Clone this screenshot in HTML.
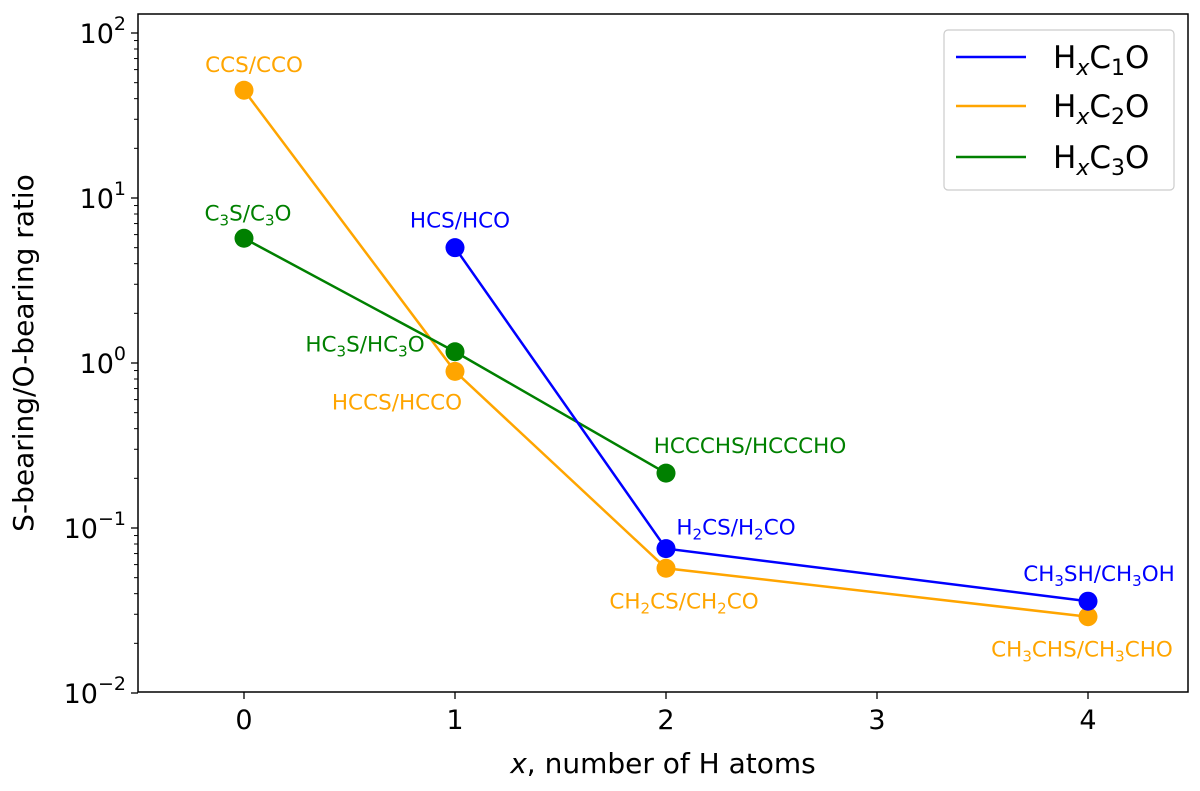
<!DOCTYPE html>
<html><head><meta charset="utf-8"><style>
body{margin:0;background:#fff}
svg{font-family:"DejaVu Sans","Liberation Sans",sans-serif}
</style></head><body>
<svg id="chart" width="1200" height="786" viewBox="0 0 1200 786" xmlns="http://www.w3.org/2000/svg">
<g id="grid"></g>
<g id="series"></g>
<g id="labels"></g>
<rect x="138" y="14" width="1050" height="678" fill="none" stroke="#000" stroke-width="1.5"/>
<g id="axes"></g>
<text x="663" y="773" font-size="28" text-anchor="middle"><tspan font-style="italic">x</tspan>, number of H atoms</text>
<text transform="translate(33,353) rotate(-90)" font-size="28" text-anchor="middle">S-bearing/O-bearing ratio</text>
<g>
<rect x="944" y="30" width="230" height="160" rx="4" fill="#fff" stroke="#ccc" stroke-width="1.2"/>
<line x1="956" y1="57" x2="1026" y2="57" stroke="#0000ff" stroke-width="2.5"/>
<text x="1053" y="68" font-size="31">H<tspan font-size="22" font-style="italic" dy="7">x</tspan><tspan dy="-7">C</tspan><tspan font-size="22" dy="7">1</tspan><tspan dy="-7">O</tspan></text>
<line x1="956" y1="106" x2="1026" y2="106" stroke="#ffa500" stroke-width="2.5"/>
<text x="1053" y="117" font-size="31">H<tspan font-size="22" font-style="italic" dy="7">x</tspan><tspan dy="-7">C</tspan><tspan font-size="22" dy="7">2</tspan><tspan dy="-7">O</tspan></text>
<line x1="956" y1="157" x2="1026" y2="157" stroke="#008000" stroke-width="2.5"/>
<text x="1053" y="168" font-size="31">H<tspan font-size="22" font-style="italic" dy="7">x</tspan><tspan dy="-7">C</tspan><tspan font-size="22" dy="7">3</tspan><tspan dy="-7">O</tspan></text>
</g>
</svg>
<script>
const xTicks=[0,1,2,3,4];
const yDecades=[-2,-1,0,1,2];
const c1X=[1,2,4], c1Y=[5.0,0.075,0.036];
const c2X=[0,1,2,4], c2Y=[45,0.89,0.057,0.029];
const c3X=[0,1,2], c3Y=[5.7,1.17,0.215];
const S="<tspan font-size='15' dy='5'>", E="</tspan><tspan dy='-5'>";
const c1Labels=["HCS/HCO","H"+S+"2"+E+"CS/H"+S+"2"+E+"CO</tspan>","CH"+S+"3"+E+"SH/CH"+S+"3"+E+"OH</tspan>"];
const c2Labels=["CCS/CCO","HCCS/HCCO","CH"+S+"2"+E+"CS/CH"+S+"2"+E+"CO</tspan>","CH"+S+"3"+E+"CHS/CH"+S+"3"+E+"CHO</tspan>"];
const c3Labels=["C"+S+"3"+E+"S/C"+S+"3"+E+"O</tspan>","HC"+S+"3"+E+"S/HC"+S+"3"+E+"O</tspan>","HCCCHS/HCCCHO"];
const c1Off=[[5,-20,'middle'],[70,-14,'middle'],[11,-20,'middle']];
const c2Off=[[10,-18,'middle'],[-58,38,'middle'],[18,40,'middle'],[-6,40,'middle']];
const c3Off=[[4,-18,'middle'],[-90,0,'middle'],[84,-20,'middle']];
const NS="http://www.w3.org/2000/svg";
const sx=v=>244+211*v;
const sy=v=>33+(2-Math.log10(v))*165;
const axes=document.getElementById('axes'),ser=document.getElementById('series'),lab=document.getElementById('labels');
function mk(tag,attrs,parent){const e=document.createElementNS(NS,tag);for(const k in attrs)e.setAttribute(k,attrs[k]);parent.appendChild(e);return e;}
xTicks.forEach(t=>{
 const l=mk('line',{x1:sx(t),x2:sx(t),y1:692,y2:699,stroke:'#000','stroke-width':1.3},axes);
 
 
 const tx=mk('text',{x:sx(t),y:729,'font-size':27,'text-anchor':'middle'},axes);tx.textContent=t;
 
 
});
yDecades.forEach(d=>{
 const y=sy(Math.pow(10,d));
 const l=mk('line',{x1:131,x2:138,y1:y,y2:y,stroke:'#000','stroke-width':1.3},axes);
 
 
 const tx=mk('text',{x:126,y:y+10,'font-size':27,'text-anchor':'end'},axes);
 tx.innerHTML='10<tspan font-size="19" dy="-13">'+(d<0?'\u2212'+(-d):d)+'</tspan>';
 
 
 if(d<2){for(let m=2;m<10;m++){const yy=sy(m*Math.pow(10,d));if(yy<14)continue;
  const ml=mk('line',{x1:134,x2:138,y1:yy,y2:yy,stroke:'#000','stroke-width':1},axes);
  
  }}
});
function series(xs,ys,col,labels,offs,name){
 const pl=mk('polyline',{points:xs.map((x,i)=>sx(x)+','+sy(ys[i])).join(' '),fill:'none',stroke:col,'stroke-width':2.5},ser);
 
 
 xs.forEach((x,i)=>{
  const c=mk('circle',{cx:sx(x),cy:sy(ys[i]),r:9.5,fill:col},ser);
  
  
  const t=mk('text',{x:sx(x)+offs[i][0],y:sy(ys[i])+offs[i][1],'font-size':21.5,fill:col,'text-anchor':offs[i][2]},lab);
  t.innerHTML=labels[i];
  
  
 });
}
series(c2X,c2Y,'#ffa500',c2Labels,c2Off,'hxc2o');
series(c3X,c3Y,'#008000',c3Labels,c3Off,'hxc3o');
series(c1X,c1Y,'#0000ff',c1Labels,c1Off,'hxc1o');
</script>
</body></html>
